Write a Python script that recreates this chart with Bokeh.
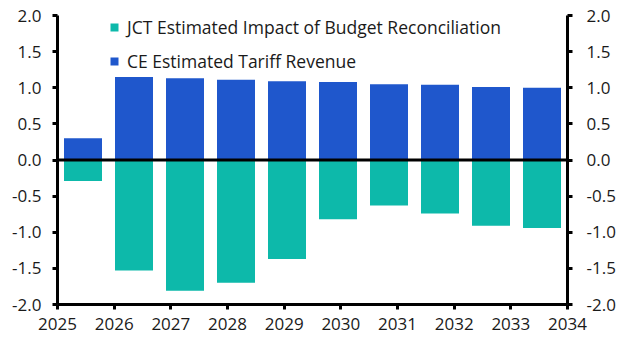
from bokeh.plotting import figure
from bokeh.models import (Range1d, LinearAxis, FixedTicker, Span, Legend,
                          LegendItem, ColumnDataSource, NumeralTickFormatter)
from bokeh.transform import dodge
from bokeh.embed import file_html
from bokeh.resources import INLINE

# ---- data ----
year_ticks = [2025, 2026, 2027, 2028, 2029, 2030, 2031, 2032, 2033, 2034]
slots = [0, 1, 2, 3, 4, 5, 6, 7, 8, 9]
ce_tariff_revenue = [0.30, 1.15, 1.13, 1.11, 1.09, 1.08, 1.05, 1.04, 1.01, 1.00]
jct_budget_impact = [-0.29, -1.53, -1.81, -1.70, -1.37, -0.82, -0.63, -0.74, -0.91, -0.94]
y_ticks = [-2.0, -1.5, -1.0, -0.5, 0.0, 0.5, 1.0, 1.5, 2.0]

BLUE = "#1f57cc"
TEAL = "#0db9aa"
FONT = "Open Sans"
TXT = "#1a1a1a"

src = ColumnDataSource(dict(slot=slots, ce=ce_tariff_revenue, jct=jct_budget_impact))

p = figure(width=631, height=356, output_backend="svg", toolbar_location=None,
           x_range=Range1d(0, 10), y_range=Range1d(-2, 2),
           x_axis_type=None, y_axis_type=None,
           min_border_left=57, min_border_right=64, min_border_top=15, min_border_bottom=52)
p.outline_line_color = None
p.xgrid.visible = False
p.ygrid.visible = False
p.background_fill_color = "white"
p.border_fill_color = "white"

p.extra_x_ranges = {"years": Range1d(year_ticks[0], year_ticks[-1])}

r_jct = p.vbar(x=dodge("slot", 0.5, range=p.x_range), top="jct", bottom=0, width=0.745,
               source=src, fill_color=TEAL, line_color=None)
r_ce = p.vbar(x=dodge("slot", 0.5, range=p.x_range), top="ce", bottom=0, width=0.745,
              source=src, fill_color=BLUE, line_color=None)

p.add_layout(Span(location=0, dimension="width", line_color="black", line_width=3))


def style_axis(ax, standoff):
    ax.axis_line_color = "black"
    ax.axis_line_width = 3
    ax.major_tick_line_color = "black"
    ax.major_tick_line_width = 3
    ax.major_tick_out = 5
    ax.major_tick_in = 0
    ax.minor_tick_line_color = None
    ax.major_label_text_font = FONT
    ax.major_label_text_font_size = "17px"
    ax.major_label_text_color = TXT
    ax.major_label_standoff = standoff


left = LinearAxis(ticker=FixedTicker(ticks=y_ticks),
                  formatter=NumeralTickFormatter(format="0.0"))
style_axis(left, 11)
p.add_layout(left, "left")

right = LinearAxis(ticker=FixedTicker(ticks=y_ticks),
                   formatter=NumeralTickFormatter(format="0.0"))
style_axis(right, 14)
p.add_layout(right, "right")

bottom = LinearAxis(x_range_name="years", ticker=FixedTicker(ticks=year_ticks))
style_axis(bottom, 8)
p.add_layout(bottom, "below")

legend = Legend(items=[LegendItem(label="JCT Estimated Impact of Budget Reconciliation", renderers=[r_jct]),
                       LegendItem(label="CE Estimated Tariff Revenue", renderers=[r_ce])],
                location=(52, 231), orientation="vertical")
legend.glyph_width = 10
legend.glyph_height = 10
legend.label_standoff = 8
legend.label_height = 24
legend.spacing = 10
legend.padding = 0
legend.margin = 0
legend.border_line_color = None
legend.background_fill_alpha = 0
legend.label_text_font = FONT
legend.label_text_font_size = "17.5px"
legend.label_text_color = TXT
p.add_layout(legend, "center")

open("out.html", "w").write(file_html(p, INLINE))
